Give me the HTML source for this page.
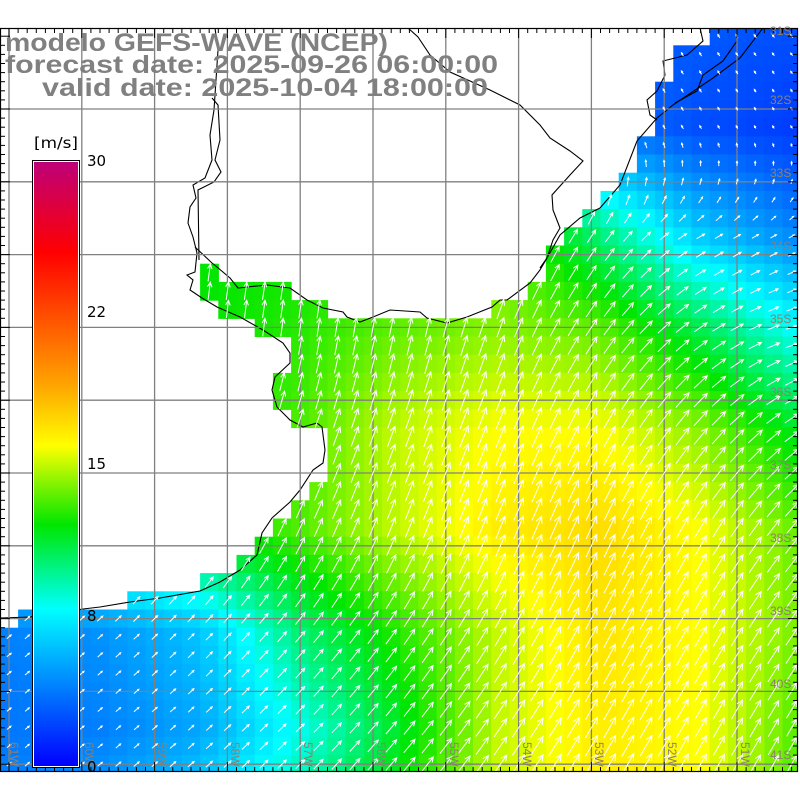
<!DOCTYPE html>
<html><head><meta charset="utf-8"><style>
html,body{margin:0;padding:0;background:#fff;width:800px;height:800px;overflow:hidden}
svg{display:block}
</style></head><body>
<svg id="s" width="800" height="800" viewBox="0 0 800 800" xmlns="http://www.w3.org/2000/svg">
<defs>
<clipPath id="pc"><rect x="0" y="28" width="798" height="744"/></clipPath>
<linearGradient id="cb" x1="0" y1="1" x2="0" y2="0">
<stop offset="0" stop-color="rgb(0,0,255)"/>
<stop offset="0.26" stop-color="rgb(0,255,255)"/>
<stop offset="0.40" stop-color="rgb(0,230,0)"/>
<stop offset="0.53" stop-color="rgb(255,255,0)"/>
<stop offset="0.63" stop-color="rgb(255,165,0)"/>
<stop offset="0.85" stop-color="rgb(255,0,0)"/>
<stop offset="1" stop-color="rgb(190,0,120)"/>
</linearGradient>
</defs>
<g id="cells" clip-path="url(#pc)"></g>
<g id="coast" fill="none" stroke="#000" stroke-width="1.1" clip-path="url(#pc)">
<polyline points="0,618 30,617 83,609 100,607 130,602 160,598 200,591 220,582 240,570 257,555 262,533 272,518 290,502 300,490 313,470 323,463 325,450 322,427 317,423 303,427 290,420 277,407 272,390 275,377 290,363 290,353 283,343 263,330 240,317 217,307 202,298 190,290 193,280 187,275 195,272 197,253 193,237 188,223 190,207 196,198 193,185 205,178 212,160 210,135 214,110 216,80 218,50 215,28"/>
<polyline points="195,247 212,263 217,267 230,278 238,288 247,287 267,285 290,288 307,300 323,308 343,312 347,317 360,322 373,317 390,310 420,312 427,318 447,323 467,317 492,307 500,300 507,300 530,283 540,270 547,258 553,240 560,228 553,210 552,195 570,175 583,161 570,151 550,138 540,125 520,105 490,90 450,72 430,55 418,37 408,28"/>
<polyline points="540,268 547,258 560,235 580,218 600,208 620,185 637,141 657,118 673,105 713,78 740,58 763,28"/>
<polyline points="700,28 703,41 687,55 663,61 665,75 657,91 647,100 650,115 657,120"/>
<polyline points="737,28 737,41 723,61 703,75 697,91 675,103"/>
<polyline points="212,98 218,105 220,140 215,160 221,172 214,182 198,190 199,260"/>
</g>
<g id="grid" stroke="#808080" stroke-width="1.3" fill="none"></g>
<g id="arrows" stroke="#fff" stroke-width="1" fill="none" clip-path="url(#pc)"></g>
<g id="ticks" stroke="#000" stroke-width="1"></g>
<rect x="0.5" y="28.5" width="797" height="743" fill="none" stroke="#000" stroke-width="1.2"/>
<g font-family="Liberation Sans, sans-serif" font-size="12" fill="#8c8070">
<text x="770" y="104">32S</text><text x="770" y="177">33S</text><text x="770" y="250">34S</text>
<text x="770" y="323">35S</text><text x="770" y="396">36S</text><text x="770" y="469">37S</text>
<text x="770" y="542">38S</text><text x="770" y="615">39S</text><text x="770" y="688">40S</text>
<text x="770" y="759">41S</text><text x="770" y="35">31S</text>
</g>
<g font-family="Liberation Sans, sans-serif" font-size="12" fill="#8c8070">
<text transform="translate(10,742) rotate(90)">61W</text>
<text transform="translate(85,742) rotate(90)">60W</text>
<text transform="translate(158,742) rotate(90)">59W</text>
<text transform="translate(231,742) rotate(90)">58W</text>
<text transform="translate(304,742) rotate(90)">57W</text>
<text transform="translate(377,742) rotate(90)">56W</text>
<text transform="translate(450,742) rotate(90)">55W</text>
<text transform="translate(523,742) rotate(90)">54W</text>
<text transform="translate(595,742) rotate(90)">53W</text>
<text transform="translate(668,742) rotate(90)">52W</text>
<text transform="translate(741,742) rotate(90)">51W</text>
</g>
<rect x="32.5" y="160.5" width="47" height="607" fill="#fff" stroke="#000" stroke-width="1"/>
<rect x="34" y="162" width="44" height="604" fill="url(#cb)"/>
<g font-family="DejaVu Sans, Liberation Sans, sans-serif" font-size="15" fill="#000">
<text x="34" y="148" textLength="44" lengthAdjust="spacingAndGlyphs">[m/s]</text>
<text x="87" y="166">30</text>
<text x="87" y="317">22</text>
<text x="87" y="469">15</text>
<text x="87" y="621">8</text>
<text x="87" y="772">0</text>
</g>
<g font-family="Liberation Sans, sans-serif" font-weight="bold" font-size="25" fill="#808080">
<text x="5" y="51" textLength="383" lengthAdjust="spacingAndGlyphs">modelo GEFS-WAVE (NCEP)</text>
<text x="5" y="73" textLength="493" lengthAdjust="spacingAndGlyphs">forecast date: 2025-09-26 06:00:00</text>
<text x="42" y="96" textLength="446" lengthAdjust="spacingAndGlyphs">valid date: 2025-10-04 18:00:00</text>
</g>
</svg>
<script>
(function(){
var YS=[30,130,230,330,430,530,630,730,780];
var F=[
[.1,.1,.1,.1,.1,.1,.1,.09,.08],
[.3,.3,.3,.3,.3,.2,.12,.08,.06],
[.4,.4,.4,.4,.4,.45,.33,.2,.13],
[.4,.4,.4,.42,.45,.47,.45,.36,.26],
[.4,.4,.4,.44,.5,.53,.53,.47,.38],
[.3,.35,.4,.44,.5,.55,.57,.53,.45],
[.13,.15,.2,.34,.42,.5,.56,.53,.46],
[.12,.13,.17,.27,.38,.5,.55,.53,.44],
[.13,.15,.2,.3,.4,.5,.55,.53,.44]];
var A=[
[-30,-30,-30,-30,-30,-30,-30,-30,-40],
[-30,-30,-30,-30,-30,-30,-30,-30,-30],
[10,10,10,10,10,20,35,60,60],
[5,5,5,8,12,20,35,55,75],
[20,20,20,20,20,22,28,40,55],
[35,35,30,25,22,22,25,30,40],
[50,48,45,40,35,30,28,30,35],
[50,50,48,45,40,35,30,30,30],
[50,50,48,45,40,35,30,30,30]];
function interp(G,x,y){
 var i=Math.max(0,Math.min(7,Math.floor(x/100)));var tx=Math.max(0,Math.min(1,(x-i*100)/100));
 var j=0;while(j<7&&y>YS[j+1])j++;var ty=Math.max(0,Math.min(1,(y-YS[j])/(YS[j+1]-YS[j])));
 var a=G[j][i]*(1-tx)+G[j][i+1]*tx,b=G[j+1][i]*(1-tx)+G[j+1][i+1]*tx;return a*(1-ty)+b*ty;}
var ST=[[0,0,0,255],[.26,0,255,255],[.40,0,230,0],[.53,255,255,0],[.63,255,165,0],[.85,255,0,0],[1,190,0,120]];
function col(f){for(var k=0;k<ST.length-1;k++){if(f<=ST[k+1][0]){var t=(f-ST[k][0])/(ST[k+1][0]-ST[k][0]);t=Math.max(0,Math.min(1,t));
 return "rgb("+[1,2,3].map(function(c){return Math.round(ST[k][c]+(ST[k+1][c]-ST[k][c])*t)}).join(",")+")";}}return "rgb(190,0,120)";}
var SP=[[28,45,[[709,800]]],[45,64,[[681,800]]],[64,82,[[673,800]]],[82,100,[[655,800]]],[100,136,[[658,800]]],
[136,172,[[636,800]]],[172,191,[[617,800]]],[191,209,[[600,800]]],[209,227,[[583,800]]],[227,245,[[564,800]]],
[245,263,[[546,800]]],[263,282,[[200,218],[546,800]]],[282,300,[[200,290],[527,800]]],[300,318,[[218,327],[492,800]]],
[318,336,[[255,800]]],[336,373,[[292,800]]],[373,409,[[273,800]]],[409,427,[[291,800]]],[427,482,[[327,800]]],
[482,500,[[309,800]]],[500,518,[[291,800]]],[518,537,[[273,800]]],[537,555,[[255,800]]],[555,573,[[236,800]]],
[573,591,[[200,800]]],[591,609,[[127,800]]],[609,627,[[18,800]]],[627,800,[[0,800]]]];
function sea(x,y){for(var k=0;k<SP.length;k++){var s=SP[k];if(y>=s[0]&&y<s[1]){for(var m=0;m<s[2].length;m++){if(x>=s[2][m][0]&&x<s[2][m][1])return true;}return false;}}return false;}
var D=72.8/4,cg=document.getElementById("cells"),ag=document.getElementById("arrows");
var html="",ahtml="";
for(var j=-5;j<40;j++){var cy=109+j*D;if(cy<20||cy>790)continue;
 for(var i=0;i<46;i++){var cx=9+i*D;if(cx>810)continue;
  if(!sea(cx,cy))continue;
  var f=interp(F,cx,cy);
  html+='<rect x="'+(cx-D/2).toFixed(1)+'" y="'+(cy-D/2).toFixed(1)+'" width="'+(D+0.6).toFixed(1)+'" height="'+(D+0.6).toFixed(1)+'" fill="'+col(f)+'"/>';
  var ang=interp(A,cx,cy)*Math.PI/180,L=Math.max(3,f*44);
  var dx=Math.sin(ang),dy=-Math.cos(ang);
  var x0=cx-dx*L/2,y0=cy-dy*L/2,x1=cx+dx*L/2,y1=cy+dy*L/2;
  var h=Math.max(2,L*0.3),a1=ang+Math.PI-0.45,a2=ang+Math.PI+0.45;
  ahtml+='<path d="M'+x0.toFixed(1)+' '+y0.toFixed(1)+'L'+x1.toFixed(1)+' '+y1.toFixed(1)+'M'+(x1+Math.sin(a1)*h).toFixed(1)+' '+(y1-Math.cos(a1)*h).toFixed(1)+'L'+x1.toFixed(1)+' '+y1.toFixed(1)+'L'+(x1+Math.sin(a2)*h).toFixed(1)+' '+(y1-Math.cos(a2)*h).toFixed(1)+'"/>';
 }}
cg.innerHTML=html;ag.innerHTML=ahtml;
var g=document.getElementById("grid"),gs="";
for(var k=0;k<11;k++){var x=9+k*72.8;gs+='<line x1="'+x+'" y1="28" x2="'+x+'" y2="772"/>';}
for(var k=0;k<10;k++){var y=109+k*72.8;gs+='<line x1="0" y1="'+y+'" x2="798" y2="'+y+'"/>';}
g.innerHTML=gs;
var t=document.getElementById("ticks"),ts="";
for(var k=-8;k<95;k++){var x=9+k*9.1;if(x<0||x>798)continue;var L=(k%8===0)?10:5;
 ts+='<line x1="'+x+'" y1="28" x2="'+x+'" y2="'+(28+L)+'"/><line x1="'+x+'" y1="772" x2="'+x+'" y2="'+(772-L)+'"/>';}
for(var k=-9;k<80;k++){var y=109+k*9.1;if(y<28||y>772)continue;var L=(k%8===0)?10:5;
 ts+='<line x1="0" y1="'+y+'" x2="'+L+'" y2="'+y+'"/><line x1="798" y1="'+y+'" x2="'+(798-L)+'" y2="'+y+'"/>';}
t.innerHTML=ts;
})();
</script>
</body></html>
